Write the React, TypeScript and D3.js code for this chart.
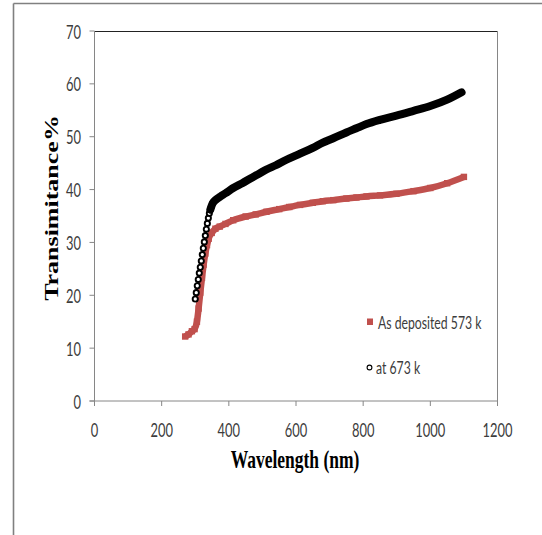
import React from "react";
import * as d3 from "d3";

// ---- data ----
const seriesNames = ["As deposited 573 k", "at 673 k"];

const redWavelength = [270, 280, 290, 298, 305, 310, 315, 320, 325, 330, 335, 340, 349, 360, 373, 390, 413, 450, 480, 512, 550, 580, 612, 650, 680, 711, 750, 780, 810, 850, 899, 950, 1000, 1050, 1100];
const redTransmittance = [12.2, 12.6, 13.2, 13.6, 15.0, 17.5, 20.5, 23.3, 25.8, 27.9, 29.5, 30.7, 31.8, 32.6, 33.0, 33.5, 34.2, 34.9, 35.3, 35.8, 36.3, 36.7, 37.1, 37.5, 37.8, 38.0, 38.3, 38.5, 38.7, 38.9, 39.2, 39.7, 40.3, 41.2, 42.4];

const blackWavelength = [300, 303, 306, 309, 312, 315, 318, 321, 324, 327, 330, 333, 336, 339, 342, 345, 348, 352, 360, 375, 390, 413, 440, 470, 490, 512, 540, 570, 612, 650, 680, 711, 750, 780, 810, 850, 899, 950, 1000, 1050, 1093];
const blackTransmittance = [19.3, 20.5, 21.8, 23.0, 24.2, 25.3, 26.5, 27.7, 28.9, 30.1, 31.3, 32.5, 33.6, 34.6, 35.5, 36.2, 36.8, 37.4, 38.0, 38.7, 39.3, 40.3, 41.2, 42.3, 43.0, 43.8, 44.6, 45.6, 46.8, 47.9, 48.9, 49.7, 50.8, 51.6, 52.4, 53.2, 54.0, 54.9, 55.8, 57.0, 58.4];

const xTicks = [0, 200, 400, 600, 800, 1000, 1200];
const yTicks = [0, 10, 20, 30, 40, 50, 60, 70];

const xTitle = "Wavelength (nm)";
const yTitle = "Transimitance%";

// ---- layout ----
const W = 542;
const H = 535;
const x = d3.scaleLinear().domain([0, 1200]).range([94.5, 497.5]);
const y = d3.scaleLinear().domain([0, 70]).range([401, 31]);

const RED = "#C0504D";
const AXIS = "#868686";
const TXT = "#3c3c3c";
const SQ = 0.68;

export default function App() {
  const red = redWavelength.map((w, i) => [w, redTransmittance[i]] as [number, number]);
  const black = blackWavelength.map((w, i) => [w, blackTransmittance[i]] as [number, number]);
  const line = d3
    .line<[number, number]>()
    .x((d) => x(d[0]))
    .y((d) => y(d[1]))
    .curve(d3.curveMonotoneX);
  const blackDense = black.filter((d) => d[0] >= 345);
  const blackSteep = black.filter((d) => d[0] <= 352);

  const [x0, x1] = x.range();
  const [y0, y1] = y.range();

  return (
    <svg
      width={W}
      height={H}
      style={{ position: "absolute", left: 0, top: 0, background: "#fff" }}
    >
      <rect x={0} y={0} width={W} height={H} fill="#fff" />
      {/* outer frame */}
      <line x1={13.5} y1={3.5} x2={W} y2={3.5} stroke="#808080" strokeWidth={1.6} />
      <line x1={13.5} y1={3.5} x2={13.5} y2={H} stroke="#808080" strokeWidth={1.6} />

      {/* plot frame */}
      <line x1={x0} y1={y1 + 0.5} x2={x1} y2={y1 + 0.5} stroke="#222" strokeWidth={1} />
      <line x1={x1} y1={y1} x2={x1} y2={y0 + 5} stroke={AXIS} strokeWidth={1} />
      <line x1={x0} y1={y1} x2={x0} y2={y0 + 5} stroke={AXIS} strokeWidth={1} />
      <line x1={x0 - 5} y1={y0} x2={x1} y2={y0} stroke={AXIS} strokeWidth={1} />

      {/* y ticks */}
      {yTicks.map((t) => (
        <g key={"y" + t}>
          <line x1={x0 - 5} x2={x0} y1={y(t)} y2={y(t)} stroke={AXIS} strokeWidth={1} />
          <text
            transform={`translate(81,${y(t)}) scale(${SQ},1)`}
            textAnchor="end"
            dominantBaseline="central"
            fontFamily="Lato, 'Open Sans', sans-serif"
            fontSize={19}
            fill={TXT}
          >
            {t}
          </text>
        </g>
      ))}

      {/* x ticks */}
      {xTicks.map((t) => (
        <g key={"x" + t}>
          <line x1={x(t)} x2={x(t)} y1={y0} y2={y0 + 5} stroke={AXIS} strokeWidth={1} />
          <text
            transform={`translate(${x(t)},429) scale(${SQ},1)`}
            textAnchor="middle"
            dominantBaseline="central"
            fontFamily="Lato, 'Open Sans', sans-serif"
            fontSize={19}
            fill={TXT}
          >
            {t}
          </text>
        </g>
      ))}

      {/* axis titles */}
      <text
        transform={`translate(295,468) scale(0.7,1)`}
        textAnchor="middle"
        fontFamily="'Liberation Serif', 'Times New Roman', serif"
        fontWeight="bold"
        fontSize={25}
        fill="#000"
      >
        {xTitle}
      </text>
      <text
        transform={`translate(58,208) rotate(-90) scale(1,0.72)`}
        textAnchor="middle"
        fontFamily="'Liberation Serif', 'Times New Roman', serif"
        fontWeight="bold"
        fontSize={26}
        fill="#000"
      >
        {yTitle}
      </text>

      {/* red series: dense square markers */}
      <path d={line(red) || ""} fill="none" stroke={RED} strokeWidth={6.5} strokeLinejoin="round" />
      {red.map((d, i) => (
        <rect key={"r" + i} x={x(d[0]) - 3.2} y={y(d[1]) - 3.2} width={6.4} height={6.4} fill={RED} />
      ))}

      {/* black series: open circles */}
      <path d={line(black) || ""} fill="none" stroke="#000" strokeWidth={2} />
      {blackSteep.map((d, i) => (
        <circle key={"b" + i} cx={x(d[0])} cy={y(d[1])} r={2.6} fill="#fff" stroke="#000" strokeWidth={1.9} />
      ))}
      <path
        d={line(blackDense) || ""}
        fill="none"
        stroke="#000"
        strokeWidth={8}
        strokeLinecap="round"
        strokeLinejoin="round"
      />

      {/* legend */}
      <rect x={367} y={318.5} width={6} height={6.5} fill={RED} />
      <text
        transform={`translate(378,322) scale(${SQ},1)`}
        dominantBaseline="central"
        fontFamily="Lato, 'Open Sans', sans-serif"
        fontSize={18}
        fill={TXT}
      >
        {seriesNames[0]}
      </text>
      <circle cx={369.5} cy={367.5} r={2.4} fill="#fff" stroke="#000" strokeWidth={1.1} />
      <text
        transform={`translate(376,367) scale(${SQ},1)`}
        dominantBaseline="central"
        fontFamily="Lato, 'Open Sans', sans-serif"
        fontSize={18}
        fill={TXT}
      >
        {seriesNames[1]}
      </text>
    </svg>
  );
}
